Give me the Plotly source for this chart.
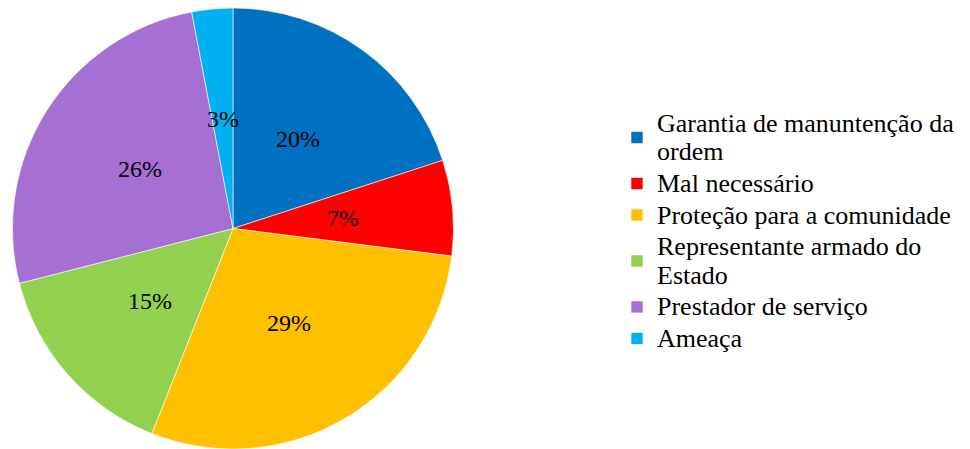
import math
import plotly.graph_objects as go

categories = [
    "Garantia de manuntenção da<br>ordem",
    "Mal necessário",
    "Proteção para a comunidade",
    "Representante armado do<br>Estado",
    "Prestador de serviço",
    "Ameaça",
]
shares = [20, 7, 29, 15, 26, 3]
colors = ["#0070C0", "#FF0000", "#FFC000", "#92D050", "#A66FD3", "#00B0F0"]

W, H = 970, 449
FONT = "Liberation Serif, Times New Roman, serif"

# pie square: 8 px clear at the top, touching the bottom edge
top_px = 8
size_px = H - top_px
cx_px = 233
x0, x1 = (cx_px - size_px / 2) / W, (cx_px + size_px / 2) / W
cy_px = top_px + size_px / 2
radius_px = size_px / 2


def big(text):
    # larger glyphs while keeping the legend's tighter line pitch
    return "<br>".join(
        f'<span style="font-size:26px">{part}</span>' for part in text.split("<br>")
    )


fig = go.Figure(
    go.Pie(
        labels=[big(c) for c in categories],
        values=shares,
        sort=False,
        direction="clockwise",
        rotation=0,
        marker=dict(colors=colors, line=dict(color="rgba(255,255,255,0.6)", width=1)),
        textinfo="none",
        hoverinfo="label+percent",
        domain=dict(x=[x0, x1], y=[0, 1 - top_px / H]),
    )
)

# percentage labels placed halfway along each slice's bisector
total = sum(shares)
cum = 0
annotations = []
for v in shares:
    mid = (cum + v / 2) / total * 2 * math.pi
    cum += v
    px = cx_px + 0.5 * radius_px * math.sin(mid)
    py = cy_px - 0.5 * radius_px * math.cos(mid)
    annotations.append(
        dict(
            x=px / W,
            y=1 - py / H,
            xref="paper",
            yref="paper",
            xanchor="center",
            yanchor="middle",
            text=f"{round(v / total * 100)}%",
            showarrow=False,
            font=dict(family=FONT, size=24, color="black"),
        )
    )

fig.update_layout(
    width=W,
    height=H,
    margin=dict(l=0, r=0, t=0, b=0),
    paper_bgcolor="white",
    plot_bgcolor="white",
    annotations=annotations,
    showlegend=True,
    legend=dict(
        x=617 / W,
        y=1 - 231 / H,
        xanchor="left",
        yanchor="middle",
        font=dict(family=FONT, size=22, color="black"),
        tracegroupgap=0,
        itemclick=False,
    ),
)

fig.write_html("out.html")
